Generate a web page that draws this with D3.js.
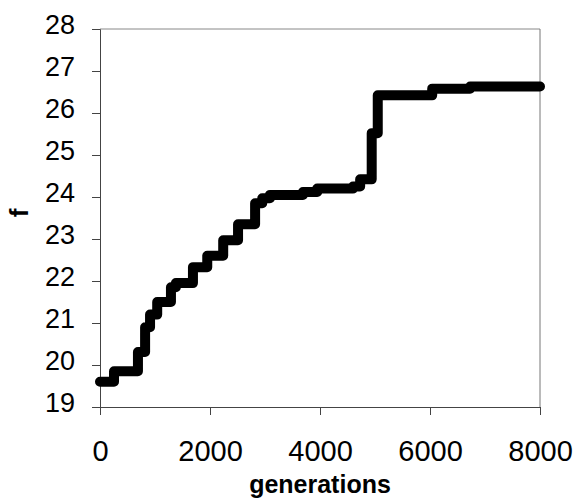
<!DOCTYPE html>
<html>
<head>
<meta charset="utf-8">
<script src="https://cdn.jsdelivr.net/npm/d3@7"></script>
<style>
  html, body { margin: 0; padding: 0; background: #fff; }
  svg { display: block; }
  text { font-family: "Liberation Sans", Arial, sans-serif; fill: #000; }
</style>
</head>
<body>
<svg id="chart" width="581" height="500"></svg>
<script>
// Data (step changes: generation where a new best value starts)
const generations = [0, 255, 690, 820, 910, 1040, 1290, 1380, 1690, 1950, 2240, 2510, 2820, 2950, 3090, 3690, 3950, 4600, 4730, 4940, 5050, 6040, 6730, 8000];
const fValues     = [19.6, 19.85, 20.31, 20.9, 21.2, 21.5, 21.85, 21.95, 22.33, 22.6, 22.97, 23.35, 23.85, 23.97, 24.05, 24.12, 24.2, 24.25, 24.42, 25.52, 26.42, 26.58, 26.63, 26.63];
const xTicks = [0, 2000, 4000, 6000, 8000];
const yTicks = [19, 20, 21, 22, 23, 24, 25, 26, 27, 28];
const xTitle = "generations";
const yTitle = "f";

const svg = d3.select("#chart");
const mLeft = 100, mRight = 540, mTop = 29, mBottom = 407;

const x = d3.scaleLinear().domain([0, 8000]).range([mLeft, mRight]);
const y = d3.scaleLinear().domain([19, 28]).range([mBottom, mTop]);

// plot frame (top/right light)
svg.append("line").attr("x1", mLeft).attr("x2", mRight).attr("y1", mTop).attr("y2", mTop)
  .attr("stroke", "#888").attr("stroke-width", 1);
svg.append("line").attr("x1", mRight).attr("x2", mRight).attr("y1", mTop).attr("y2", mBottom)
  .attr("stroke", "#777").attr("stroke-width", 1);

// y axis
const yAxis = svg.append("g").attr("transform", `translate(${mLeft},0)`)
  .call(d3.axisLeft(y).tickValues(yTicks).tickSize(8).tickFormat(d3.format("d")));
yAxis.select(".domain").attr("stroke", "#444");
yAxis.selectAll(".tick line").attr("stroke", "#444");
yAxis.selectAll(".tick text")
  .attr("x", -25).attr("dy", null).attr("y", 4)
  .style("font-size", "27px").style("font-family", "Liberation Sans, Arial, sans-serif");

// x axis
const xAxis = svg.append("g").attr("transform", `translate(0,${mBottom})`)
  .call(d3.axisBottom(x).tickValues(xTicks).tickSize(8).tickFormat(d3.format("d")));
xAxis.select(".domain").attr("stroke", "#444");
xAxis.selectAll(".tick line").attr("stroke", "#444");
xAxis.selectAll(".tick text")
  .attr("y", 54).attr("dy", null)
  .style("font-size", "29px").style("font-family", "Liberation Sans, Arial, sans-serif");

// line
const data = generations.map((g, i) => ({ g, v: fValues[i] }));
const line = d3.line().x(d => x(d.g)).y(d => y(d.v)).curve(d3.curveStepAfter);
svg.append("path").datum(data)
  .attr("d", line)
  .attr("fill", "none")
  .attr("stroke", "#000")
  .attr("stroke-width", 10)
  .attr("stroke-linejoin", "round")
  .attr("stroke-linecap", "round");

// titles
svg.append("text").attr("x", 320).attr("y", 493).attr("text-anchor", "middle")
  .style("font-size", "25px").style("font-weight", "bold").text(xTitle);
svg.append("text").attr("transform", "translate(28,213) rotate(-90)").attr("text-anchor", "middle")
  .style("font-size", "26px").style("font-weight", "bold").text(yTitle);
</script>
</body>
</html>
